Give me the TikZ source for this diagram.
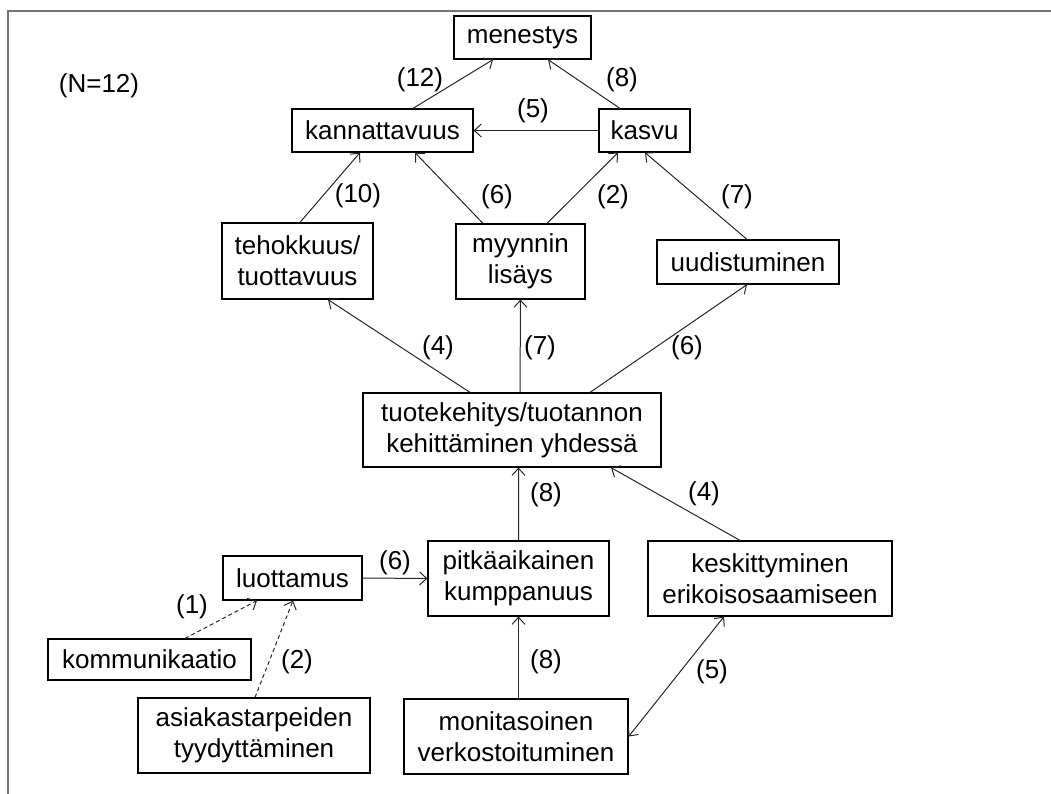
\documentclass[tikz,border=0pt]{standalone}
\usepackage{fontspec}
\setmainfont{Liberation Sans}
\usetikzlibrary{arrows.meta}
\begin{document}
\begin{tikzpicture}[x=1bp,y=-1bp,
  box/.style={draw=black,line width=1.2bp,inner sep=0pt,align=center,
    font=\fontsize{26bp}{31bp}\selectfont},
  lbl/.style={inner sep=0pt,font=\fontsize{26bp}{31bp}\selectfont},
  link/.style={draw=black!85,line width=1bp,-{Straight Barb[length=7bp,width=13bp]}},
  weak/.style={link,dashed,dash pattern=on 4bp off 3bp},
  both/.style={link,{Straight Barb[length=7bp,width=13bp]}-{Straight Barb[length=7bp,width=13bp]}}]
% page area and frame
\useasboundingbox (0,0) rectangle (1051,794);
\draw[draw=black!55,line width=2bp] (8,794) -- (8,11) -- (1051,11);

% nodes
\node[lbl] (n) at (99,86) {(N=12)};
\node[box,minimum width=137bp,minimum height=43bp] (men) at (522.5,37.5) {menestys};
\node[box,minimum width=181bp,minimum height=43bp] (kann) at (382.5,130.5) {kannattavuus};
\node[box,minimum width=91bp,minimum height=43bp] (kasvu) at (644.5,130.5) {kasvu};
\node[box,minimum width=151bp,minimum height=76bp] (teh) at (297.5,261) {tehokkuus/\\tuottavuus};
\node[box,minimum width=129bp,minimum height=75bp] (myy) at (520.5,261.5) {myynnin\\lisäys};
\node[box,minimum width=182bp,minimum height=44bp] (uud) at (748,262) {uudistuminen};
\node[box,minimum width=298bp,minimum height=74bp] (tuo) at (512,430) {tuotekehitys/tuotannon\\kehittäminen yhdessä};
\node[box,minimum width=139bp,minimum height=44bp] (luo) at (292.5,578) {luottamus};
\node[box,minimum width=181bp,minimum height=75bp] (pit) at (518.5,578.5) {pitkäaikainen\\kumppanuus};
\node[box,minimum width=244bp,minimum height=75bp] (kes) at (770,578.5) {keskittyminen\\erikoisosaamiseen};
\node[box,minimum width=203bp,minimum height=41bp] (kom) at (149.5,659.5) {kommunikaatio};
\node[box,minimum width=232bp,minimum height=75bp] (asi) at (254,735.5) {asiakastarpeiden\\tyydyttäminen};
\node[box,minimum width=224bp,minimum height=75bp] (mon) at (516,736.5) {monitasoinen\\verkostoituminen};

% connectors
\draw[link] ([xshift=30.5bp]kann.north) -- ([xshift=-29.5bp]men.south);
\draw[link] ([xshift=-24.5bp]kasvu.north) -- ([xshift=25.5bp]men.south);
\draw[link] (kasvu.west) -- (kann.east);
\draw[link] ([xshift=2.5bp]teh.north) -- ([xshift=-22.5bp]kann.south);
\draw[link] ([xshift=-37.5bp]myy.north) -- ([xshift=32.5bp]kann.south);
\draw[link] ([xshift=26.5bp]myy.north) -- ([xshift=-26.5bp]kasvu.south);
\draw[link] ([xshift=-1bp]uud.north) -- ([xshift=0.5bp]kasvu.south);
\draw[link] ([xshift=-42bp]tuo.north) -- ([xshift=30.5bp]teh.south);
\draw[link] ([xshift=8bp]tuo.north) -- (myy.south);
\draw[link] ([xshift=78bp]tuo.north) -- ([xshift=-1bp]uud.south);
\draw[link] (pit.north) -- ([xshift=6.5bp]tuo.south);
\draw[link] ([xshift=-30bp]kes.north) -- ([xshift=99bp]tuo.south);
\draw[link] (luo.east) -- (pit.west);
\draw[weak] ([xshift=35.5bp]kom.north) -- ([xshift=-35.5bp]luo.south);
\draw[weak] ([xshift=1bp]asi.north) -- ([xshift=0.5bp]luo.south);
\draw[link] (pit.south |- mon.north) -- (pit.south);
\draw[both] (mon.east) -- ([xshift=-46bp]kes.south);

% counts
\node[lbl] (c1) at (420,80) {(12)};
\node[lbl] (c2) at (622,80) {(8)};
\node[lbl] (c3) at (533,111) {(5)};
\node[lbl] (c4) at (358,196) {(10)};
\node[lbl] (c5) at (497,197) {(6)};
\node[lbl] (c6) at (613,197) {(2)};
\node[lbl] (c7) at (737,197) {(7)};
\node[lbl] (c8) at (438,348) {(4)};
\node[lbl] (c9) at (540,348) {(7)};
\node[lbl] (c10) at (687,348) {(6)};
\node[lbl] (c11) at (546,495) {(8)};
\node[lbl] (c12) at (704,494) {(4)};
\node[lbl] (c13) at (395,563) {(6)};
\node[lbl] (c14) at (192,607) {(1)};
\node[lbl] (c15) at (297,662) {(2)};
\node[lbl] (c16) at (546,662) {(8)};
\node[lbl] (c17) at (712,672) {(5)};
\end{tikzpicture}
\end{document}
